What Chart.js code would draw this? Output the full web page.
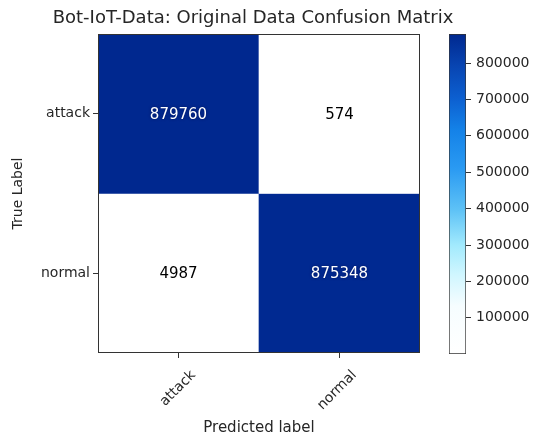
<!DOCTYPE html>
<html>
<head>
<meta charset="utf-8">
<script src="https://cdn.jsdelivr.net/npm/chart.js@4.4.0/dist/chart.umd.min.js"></script>
<style>
  body { margin: 0; background: #fff; }
  #wrap { position: relative; width: 534px; height: 436px; }
  #matrix { position: absolute; left: 0; top: 0; }
  #colorbar { position: absolute; left: 440px; top: 0; }
</style>
</head>
<body>
<div id="wrap">
  <canvas id="matrix" width="534" height="436"></canvas>
  <canvas id="colorbar" width="94" height="436"></canvas>
</div>
<script>
const classLabels = ["attack", "normal"];
// rows = true label, columns = predicted label
const attackRow = [879760, 574];
const normalRow = [4987, 875348];
const colorbarTicks = [100000, 200000, 300000, 400000, 500000, 600000, 700000, 800000];
const cmapStops = [0, 0.15, 0.25, 0.34, 0.45, 0.58, 0.70, 0.80, 0.90, 1];
const cmapColors = ["#ffffff", "#f6fdff", "#cff6ff", "#a2eafd", "#5ec2f6", "#2a9af2", "#1482e8", "#0c5fd0", "#0845b2", "#00288f"];

const matrixRows = [attackRow, normalRow];
const allValues = matrixRows.flat();
const vMin = Math.min(...allValues);
const vMax = Math.max(...allValues);
const FONT = "'DejaVu Sans', sans-serif";
const TEXT = "#262626";

function hexToRgb(h) {
  return [1, 3, 5].map(i => parseInt(h.slice(i, i + 2), 16));
}

function cmap(value) {
  const t = Math.max(0, Math.min(1, (value - vMin) / (vMax - vMin)));
  for (let i = 1; i < cmapStops.length; i++) {
    if (t <= cmapStops[i]) {
      const f = (t - cmapStops[i - 1]) / (cmapStops[i] - cmapStops[i - 1]);
      const a = hexToRgb(cmapColors[i - 1]);
      const b = hexToRgb(cmapColors[i]);
      const c = a.map((v, k) => Math.round(v + (b[k] - v) * f));
      return `rgb(${c[0]},${c[1]},${c[2]})`;
    }
  }
  return cmapColors[cmapColors.length - 1];
}

// one floating-bar dataset per true-label row, attack on top
const datasets = matrixRows.map((row, i) => {
  const base = classLabels.length - 1 - i;
  return {
    label: classLabels[i],
    data: row.map(() => [base, base + 1]),
    values: row,
    backgroundColor: row.map(v => cmap(v)),
    borderWidth: 0,
    grouped: false,
    barPercentage: 1,
    categoryPercentage: 1
  };
});

const cellText = {
  id: "cellText",
  afterDatasetsDraw(chart) {
    const ctx = chart.ctx;
    ctx.save();
    ctx.font = "15px " + FONT;
    ctx.textAlign = "center";
    ctx.textBaseline = "middle";
    chart.data.datasets.forEach((ds, i) => {
      chart.getDatasetMeta(i).data.forEach((bar, j) => {
        const v = ds.values[j];
        const { x, y } = bar.getCenterPoint();
        if (v > (vMax + vMin) / 2) {
          ctx.shadowColor = "rgba(0,20,90,0.9)";
          ctx.shadowBlur = 3;
          ctx.fillStyle = "#ffffff";
        } else {
          ctx.shadowBlur = 0;
          ctx.fillStyle = "#000000";
        }
        ctx.fillText(String(v), x, y + 1);
      });
    });
    ctx.restore();
  }
};

const frame = {
  id: "frame",
  afterDraw(chart) {
    const { ctx, chartArea: a } = chart;
    ctx.save();
    ctx.strokeStyle = "#333";
    ctx.lineWidth = 1;
    ctx.strokeRect(a.left + 0.5, a.top + 0.5, a.right - a.left - 1, a.bottom - a.top - 1);
    ctx.font = "18px " + FONT;
    ctx.fillStyle = TEXT;
    ctx.textAlign = "center";
    ctx.textBaseline = "middle";
    ctx.fillText(chart.options.plugins.frame.title, 253, 18);
    ctx.restore();
  }
};

new Chart(document.getElementById("matrix"), {
  type: "bar",
  data: { labels: classLabels, datasets },
  plugins: [cellText, frame],
  options: {
    responsive: false,
    animation: false,
    layout: { padding: { top: 34, left: 0, right: 114, bottom: 0 } },
    plugins: {
      legend: { display: false },
      tooltip: { enabled: false },
      frame: { title: "Bot-IoT-Data: Original Data Confusion Matrix" }
    },
    scales: {
      x: {
        offset: true,
        afterFit: s => { s.height = 83; },
        grid: { offset: false, drawOnChartArea: false, tickLength: 5, color: "#333" },
        border: { display: false },
        ticks: {
          minRotation: 45, maxRotation: 45, labelOffset: 15, padding: 9,
          color: TEXT, font: { family: FONT, size: 14 }
        },
        title: {
          display: true, text: "Predicted label", color: TEXT,
          font: { family: FONT, size: 15 }, padding: { top: 0, bottom: -1 }
        }
      },
      y: {
        min: 0,
        max: 2,
        afterFit: s => { s.width = 98; },
        afterBuildTicks: s => { s.ticks = [{ value: 1.5 }, { value: 0.5 }]; },
        grid: { drawOnChartArea: false, tickLength: 5, color: "#333" },
        border: { display: false },
        ticks: {
          padding: 3, color: TEXT, font: { family: FONT, size: 14 },
          callback: v => classLabels[classLabels.length - 1 - Math.floor(v)]
        },
        title: {
          display: true, text: "True Label", color: TEXT,
          font: { family: FONT, size: 14 }, padding: { top: 10, bottom: 0 }
        }
      }
    }
  }
});

new Chart(document.getElementById("colorbar"), {
  type: "bar",
  data: {
    labels: [""],
    datasets: [{
      data: [[vMin, vMax]],
      backgroundColor: ctx => {
        const chart = ctx.chart;
        const a = chart.chartArea;
        if (!a) return cmapColors[0];
        const g = chart.ctx.createLinearGradient(0, a.bottom, 0, a.top);
        cmapStops.forEach((s, i) => g.addColorStop(s, cmapColors[i]));
        return g;
      },
      borderColor: "#333",
      borderWidth: 1,
      borderSkipped: false,
      barPercentage: 1,
      categoryPercentage: 1
    }]
  },
  options: {
    responsive: false,
    animation: false,
    layout: { padding: { top: 34, left: 9, right: 0, bottom: 82 } },
    plugins: { legend: { display: false }, tooltip: { enabled: false } },
    scales: {
      x: { display: false },
      y: {
        position: "right",
        min: vMin,
        max: vMax,
        afterFit: s => { s.width = 68; },
        afterBuildTicks: s => { s.ticks = colorbarTicks.map(v => ({ value: v })); },
        grid: { drawOnChartArea: false, tickLength: 5, color: "#333" },
        border: { display: false },
        ticks: {
          padding: 5, color: TEXT, font: { family: FONT, size: 14 },
          callback: v => String(v)
        }
      }
    }
  }
});
</script>
</body>
</html>
